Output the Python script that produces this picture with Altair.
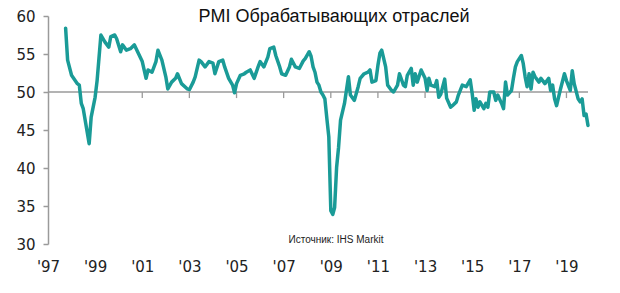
import altair as alt
import pandas as pd

# ---- data ----
months = [
    "1997-10", "1997-11", "1998-01", "1998-04", "1998-05", "1998-06", "1998-07", "1998-10", "1998-11",
    "1999-01", "1999-02", "1999-04", "1999-06", "1999-08", "1999-09", "1999-11", "1999-12",
    "2000-02", "2000-03", "2000-05", "2000-07", "2000-09", "2000-11",
    "2001-01", "2001-03", "2001-04", "2001-06", "2001-08", "2001-09", "2001-11",
    "2002-01", "2002-02", "2002-04", "2002-06", "2002-07", "2002-09", "2002-12",
    "2003-01", "2003-03", "2003-04", "2003-06", "2003-07", "2003-09", "2003-11",
    "2004-01", "2004-02", "2004-04", "2004-06", "2004-07", "2004-09", "2004-11", "2004-12",
    "2005-01", "2005-03", "2005-05", "2005-06", "2005-08", "2005-10", "2005-12",
    "2006-01", "2006-03", "2006-05", "2006-06", "2006-08", "2006-09", "2006-11", "2006-12",
    "2007-02", "2007-04", "2007-05", "2007-07", "2007-09", "2007-11", "2007-12",
    "2008-02", "2008-03", "2008-04", "2008-05", "2008-06", "2008-07", "2008-08", "2008-09",
    "2008-10", "2008-11", "2008-12",
    "2009-01", "2009-02", "2009-03", "2009-04", "2009-05", "2009-06", "2009-08", "2009-10", "2009-11",
    "2010-01", "2010-03", "2010-04", "2010-06", "2010-08", "2010-09", "2010-10", "2010-12",
    "2011-01", "2011-02", "2011-03", "2011-05", "2011-06", "2011-08", "2011-09", "2011-11", "2011-12",
    "2012-02", "2012-03", "2012-04", "2012-06", "2012-07", "2012-08", "2012-09", "2012-11",
    "2013-01", "2013-02", "2013-03", "2013-04", "2013-06", "2013-07", "2013-08", "2013-09",
    "2013-11", "2013-12",
    "2014-02", "2014-03", "2014-05", "2014-06", "2014-08", "2014-10", "2014-12",
    "2015-01", "2015-02", "2015-03", "2015-04", "2015-05", "2015-07", "2015-08", "2015-09",
    "2015-10", "2015-12",
    "2016-01", "2016-02", "2016-04", "2016-05", "2016-06", "2016-07", "2016-09", "2016-10",
    "2016-11", "2016-12",
    "2017-02", "2017-03", "2017-04", "2017-05", "2017-06", "2017-07", "2017-08", "2017-09",
    "2017-11", "2017-12",
    "2018-02", "2018-04", "2018-05", "2018-06", "2018-07", "2018-08", "2018-10", "2018-12",
    "2019-01", "2019-03", "2019-04", "2019-05", "2019-07", "2019-08", "2019-09", "2019-10",
    "2019-11", "2019-12",
]
pmi = [
    58.4, 54.2, 52.2, 51.1, 50.9, 48.5, 47.8, 43.2, 46.7,
    49.3, 51.5, 57.5, 56.6, 55.9, 57.3, 57.5, 57.0,
    55.3, 56.2, 55.5, 55.7, 56.2, 55.1,
    54.0, 51.8, 52.9, 52.6, 54.0, 55.5, 54.2,
    52.0, 50.4, 51.3, 51.8, 52.4, 51.1, 50.4,
    50.3, 51.3, 52.0, 54.2, 54.0, 53.3, 54.0,
    53.8, 52.4, 54.0, 54.2, 53.3, 51.8, 50.9, 49.9,
    51.1, 52.2, 52.4, 52.6, 52.9, 51.8, 53.3,
    54.0, 53.3, 54.6, 55.7, 55.9, 54.8, 53.3, 52.4,
    52.2, 53.3, 54.3, 53.3, 53.1, 54.1, 54.4,
    55.3, 54.7, 53.3, 52.6, 51.3, 50.9, 50.0, 49.6,
    49.1, 46.5, 44.1,
    34.4, 33.9, 34.8, 40.1, 42.7, 46.3, 48.5, 52.0, 49.6,
    48.9, 50.7, 51.8, 52.4, 52.6, 52.9, 51.3, 51.5,
    53.5, 55.1, 55.5, 53.3, 50.9, 50.2, 50.0, 50.9, 52.4,
    50.9, 50.7, 52.2, 53.1, 50.9, 52.4, 51.3, 52.9,
    51.8, 50.2, 51.8, 50.9, 50.7, 51.5, 49.3, 49.7,
    51.7, 49.2,
    48.0, 48.2, 48.7, 49.6, 50.9, 50.7, 51.6,
    49.8, 47.6, 49.1, 48.0, 48.7, 47.8, 48.5, 48.0,
    50.0, 50.0,
    48.9, 49.6, 48.5, 47.8, 51.3, 49.6, 50.2, 51.8,
    53.3, 54.0,
    54.8, 53.8, 52.0, 50.7, 52.4, 50.4, 52.6, 52.0,
    51.3, 51.8,
    51.1, 51.8, 50.2, 50.9, 49.1, 48.2, 50.4, 52.4,
    51.5, 50.2, 52.8, 51.1, 49.1, 48.7, 49.1, 46.9,
    47.1, 45.6,
]
tick_years = [1997, 1999, 2001, 2003, 2005, 2007, 2009, 2011, 2013, 2015, 2017, 2019]
axis_end_year = 2020
y_ticks = [30, 35, 40, 45, 50, 55, 60]
threshold = 50
threshold_span = ["1997-01", "2019-12"]
title_text = "PMI Обрабатывающих отраслей"
source_text = "Источник: IHS Markit"

LINE_COLOR = "#1a9b97"
GRAY = "#9a9a9a"
TEXT = "#222222"


def ms(s):
    return int(pd.Timestamp(s, tz="UTC").value // 10**6)


df = pd.DataFrame({"date": [ms(m + "-01") for m in months], "pmi": pmi})
rule_df = pd.DataFrame({"date": [ms(threshold_span[0] + "-01")],
                        "date2": [ms(threshold_span[1] + "-01")],
                        "pmi": [threshold]})
tick_df = pd.DataFrame({"date": [ms(f"{y}-01-01") for y in tick_years[1:]],
                        "pmi": [threshold] * (len(tick_years) - 1),
                        "pmi2": [threshold - 0.8] * (len(tick_years) - 1)})
text_df = pd.DataFrame({"t": [0]})

x_scale = alt.Scale(type="utc", domain=[ms(f"{tick_years[0]}-01-01"), ms(f"{axis_end_year}-01-01")])
y_scale = alt.Scale(domain=[y_ticks[0], y_ticks[-1]], nice=False, zero=False)

x_axis = alt.Axis(
    values=[ms(f"{y}-01-01") for y in tick_years],
    labelExpr="\"'\" + utcFormat(datum.value, '%y')",
    domain=False, ticks=False, tickSize=0, grid=False, title=None,
    labelPadding=15, labelFont="DejaVu Sans", labelFontSize=15,
    labelColor=TEXT, labelFlush=False, labelOverlap=False,
)
y_axis = alt.Axis(
    values=y_ticks, domainColor=GRAY, domainWidth=1.5,
    tickColor=GRAY, tickWidth=1.5, tickSize=5, labelPadding=8, grid=False, title=None,
    labelFont="DejaVu Sans", labelFontSize=15, labelColor=TEXT, labelFlush=False,
    labelOverlap=False,
)

X = alt.X("date:T", scale=x_scale, axis=x_axis)
Y = alt.Y("pmi:Q", scale=y_scale, axis=y_axis)

line = alt.Chart(df).mark_line(
    color=LINE_COLOR, strokeWidth=3.5, strokeJoin="round", strokeCap="round"
).encode(x=X, y=Y)

rule = alt.Chart(rule_df).mark_rule(color=GRAY, strokeWidth=1.5).encode(
    x=X, x2="date2:T", y=Y
)

ticks = alt.Chart(tick_df).mark_rule(color=GRAY, strokeWidth=1.3).encode(
    x=X, y=Y, y2="pmi2:Q"
)

title = alt.Chart(text_df).mark_text(
    text=title_text, font="Liberation Sans", fontSize=18, color="#111111",
    align="center", baseline="middle"
).encode(x=alt.value(286), y=alt.value(1))

source = alt.Chart(text_df).mark_text(
    text=source_text, font="Liberation Sans", fontSize=10, color=TEXT,
    align="center", baseline="middle"
).encode(x=alt.value(288), y=alt.value(224))

chart = alt.layer(rule, ticks, line, title, source).properties(
    width=542, height=228,
    autosize=alt.AutoSizeParams(type="none"),
    padding={"left": 48, "top": 16, "right": 30, "bottom": 49},
    background="white",
).configure_view(stroke=None).configure_axis(labelOverlap=False)

chart.save("out.html", embed_options={"renderer": "svg", "actions": False})
